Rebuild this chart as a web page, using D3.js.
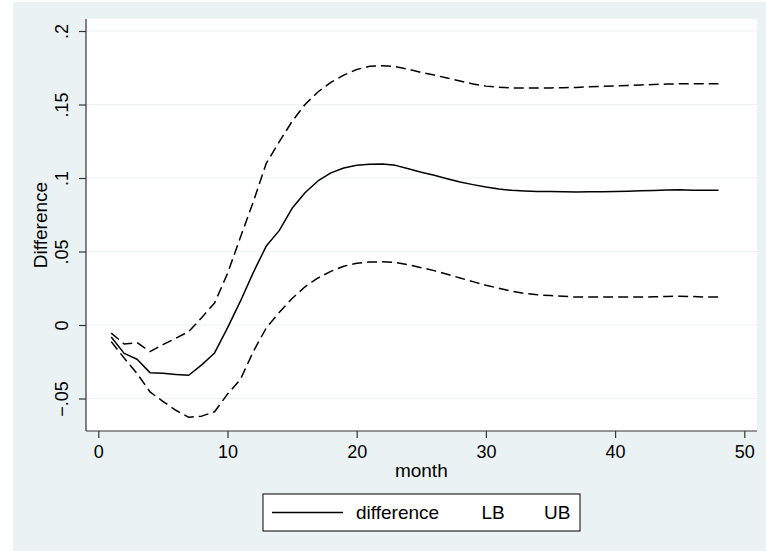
<!DOCTYPE html>
<html>
<head>
<meta charset="utf-8">
<script src="https://cdn.jsdelivr.net/npm/d3@7/dist/d3.min.js"></script>
<style>
  html, body { margin: 0; padding: 0; background: #ffffff; }
  svg { display: block; }
  text { font-family: "Liberation Sans", Arial, sans-serif; fill: #000; }
</style>
</head>
<body>
<svg id="chart" width="766" height="551"></svg>
<script>
const months = d3.range(1, 49);
const difference = [
  -0.0082, -0.0193, -0.0233, -0.0324, -0.0329, -0.0336, -0.0342, -0.0271, -0.0190, -0.0020,
   0.0162,  0.0358,  0.0537,  0.0642,  0.0794,  0.0900,  0.0980,  0.1035,  0.1068,  0.1086,
   0.1093,  0.1095,  0.1086,  0.1063,  0.1039,  0.1018,  0.0995,  0.0973,  0.0955,  0.0939,
   0.0925,  0.0916,  0.0912,  0.0909,  0.0908,  0.0906,  0.0905,  0.0906,  0.0907,  0.0908,
   0.0910,  0.0913,  0.0915,  0.0918,  0.0920,  0.0917,  0.0916,  0.0916
];
const LB = [
  -0.0113, -0.0225, -0.0330, -0.0455, -0.0520, -0.0580, -0.0628, -0.0620, -0.0590, -0.0470,
  -0.0370, -0.0180, -0.0020,  0.0085,  0.0180,  0.0260,  0.0320,  0.0365,  0.0400,  0.0420,
   0.0428,  0.0430,  0.0425,  0.0410,  0.0390,  0.0370,  0.0345,  0.0320,  0.0295,  0.0270,
   0.0250,  0.0230,  0.0215,  0.0205,  0.0200,  0.0195,  0.0190,  0.0190,  0.0190,  0.0190,
   0.0190,  0.0190,  0.0192,  0.0194,  0.0196,  0.0194,  0.0190,  0.0190
];
const UB = [
  -0.0055, -0.0129, -0.0120, -0.0181, -0.0134, -0.0090, -0.0045,  0.0050,  0.0150,  0.0350,
   0.0597,  0.0839,  0.1100,  0.1245,  0.1385,  0.1500,  0.1585,  0.1650,  0.1700,  0.1738,
   0.1760,  0.1764,  0.1758,  0.1740,  0.1718,  0.1700,  0.1680,  0.1660,  0.1640,  0.1625,
   0.1617,  0.1612,  0.1612,  0.1612,  0.1613,  0.1614,  0.1616,  0.1620,  0.1623,  0.1627,
   0.1630,  0.1633,  0.1636,  0.1639,  0.1641,  0.1641,  0.1641,  0.1642
];
const xTicks = [0, 10, 20, 30, 40, 50];
const yTicks = [-0.05, 0, 0.05, 0.1, 0.15, 0.2];
const yTickLabels = ["\u2212.05", "0", ".05", ".1", ".15", ".2"];
const legendLabels = ["difference", "LB", "UB"];

const svg = d3.select("#chart");
const bg = "#EAF2F3";

// graph region background
svg.append("rect").attr("x", 13).attr("y", 2).attr("width", 766 - 13).attr("height", 551 - 2).attr("fill", bg);

// plot region
const plot = { left: 86, right: 757, top: 19, bottom: 431 };
svg.append("rect").attr("x", plot.left).attr("y", plot.top)
  .attr("width", plot.right - plot.left).attr("height", plot.bottom - plot.top).attr("fill", "#fff");

const x = d3.scaleLinear().domain([0, 50]).range([98.3, 744.3]);
const y = d3.scaleLinear().domain([-0.05, 0.2]).range([398.5, 31]);

// gridlines
svg.append("g").selectAll("line").data(yTicks).join("line")
  .attr("x1", plot.left).attr("x2", plot.right)
  .attr("y1", d => y(d)).attr("y2", d => y(d))
  .attr("stroke", bg).attr("stroke-width", 1.2);

// series
const line = d3.line().x((d, i) => x(months[i])).y(d => y(d));
const series = [
  { data: UB, dash: "10,5" },
  { data: LB, dash: "10,5" },
  { data: difference, dash: null }
];
svg.append("g").selectAll("path").data(series).join("path")
  .attr("d", d => line(d.data))
  .attr("fill", "none").attr("stroke", "#000").attr("stroke-width", 1.5)
  .attr("stroke-linejoin", "round")
  .attr("stroke-dasharray", d => d.dash);

// y axis
const yAxis = d3.axisLeft(y).tickValues(yTicks).tickSize(7).tickFormat((d, i) => yTickLabels[i]);
const gy = svg.append("g").attr("transform", `translate(${plot.left},0)`).call(yAxis);
gy.select(".domain").attr("d", `M0,${plot.top}V${plot.bottom}`).attr("stroke", "#333").attr("stroke-width", 1.2);
gy.selectAll(".tick line").attr("stroke", "#333").attr("stroke-width", 1.2);
gy.selectAll(".tick text")
  .attr("x", null).attr("dy", null)
  .attr("transform", "translate(-18,0) rotate(-90)")
  .attr("text-anchor", "middle").attr("y", 0)
  .style("font-family", "'Liberation Sans', Arial, sans-serif").style("font-size", "18px");

// x axis
const xAxis = d3.axisBottom(x).tickValues(xTicks).tickSize(7).tickFormat(d3.format("d"));
const gx = svg.append("g").attr("transform", `translate(0,${plot.bottom})`).call(xAxis);
gx.select(".domain").attr("d", `M${plot.left},0H${plot.right}`).attr("stroke", "#333").attr("stroke-width", 1.2);
gx.selectAll(".tick line").attr("stroke", "#333").attr("stroke-width", 1.2);
gx.selectAll(".tick text").attr("y", 26.5).attr("dy", null)
  .style("font-family", "'Liberation Sans', Arial, sans-serif").style("font-size", "18px");

// axis titles
svg.append("text").attr("x", 421.3).attr("y", 476.5).attr("text-anchor", "middle")
  .style("font-size", "19px").text("month");
svg.append("text").attr("transform", `translate(47,${(plot.top + plot.bottom) / 2}) rotate(-90)`)
  .attr("text-anchor", "middle").style("font-size", "19px").text("Difference");

// legend
const lg = svg.append("g");
lg.append("rect").attr("x", 263).attr("y", 494).attr("width", 317).attr("height", 37)
  .attr("fill", "#fff").attr("stroke", "#000").attr("stroke-width", 1);
lg.append("line").attr("x1", 272).attr("x2", 343).attr("y1", 512.5).attr("y2", 512.5)
  .attr("stroke", "#000").attr("stroke-width", 1.5);
const legendX = [356, 481.5, 544];
lg.selectAll("text.lab").data(legendLabels).join("text").attr("class", "lab")
  .attr("x", (d, i) => legendX[i]).attr("y", 519.3)
  .style("font-size", "19px").text(d => d);
</script>
</body>
</html>
